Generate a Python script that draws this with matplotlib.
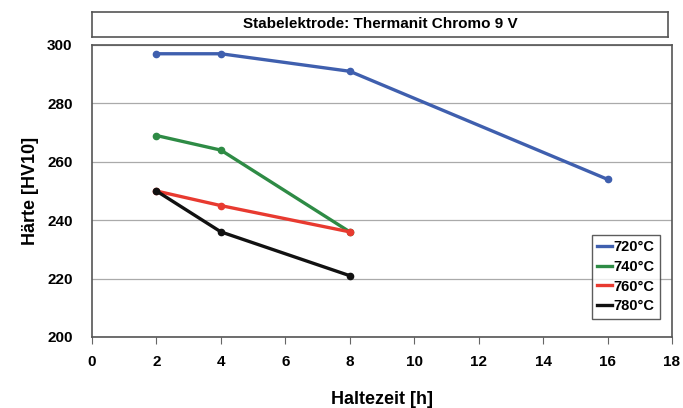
import matplotlib
matplotlib.use("Agg")
import matplotlib.pyplot as plt
from matplotlib.lines import Line2D

plt.rcParams['font.family'] = ['Liberation Sans', 'DejaVu Sans']
plt.rcParams['font.weight'] = 'bold'

title = "Stabelektrode: Thermanit Chromo 9 V"
x_720 = [2, 4, 8, 16]
y_720 = [297, 297, 291, 254]
x_740 = [2, 4, 8]
y_740 = [269, 264, 236]
x_760 = [2, 4, 8]
y_760 = [250, 245, 236]
x_780 = [2, 4, 8]
y_780 = [250, 236, 221]
labels = ["720°C", "740°C", "760°C", "780°C"]
colors = ["#3f5fae", "#2e8b45", "#e83a30", "#111111"]
xticks = [0, 2, 4, 6, 8, 10, 12, 14, 16, 18]
yticks = [200, 220, 240, 260, 280, 300]

fig = plt.figure(figsize=(6.83, 4.08), dpi=100)
ax = fig.add_axes([92/683, 71/408, 580/683, 292/408])

series = [(x_720, y_720), (x_740, y_740), (x_760, y_760), (x_780, y_780)]
for (xs, ys), lab, c in zip(series, labels, colors):
    ax.plot(xs, ys, color=c, lw=2.4, marker='o', ms=4.5, label=lab)

ax.set_xlim(0, 18)
ax.set_ylim(200, 300)
ax.set_xticks(xticks)
ax.set_yticks(yticks)
ax.yaxis.grid(True, color='#aaaaaa', lw=0.9)
ax.set_axisbelow(True)
ax.tick_params(axis='y', length=0, pad=14, labelsize=11)
ax.tick_params(axis='x', length=5, direction='out', pad=8, labelsize=11, color='#666666')
for s in ax.spines.values():
    s.set_color('#555555')
    s.set_linewidth(1.2)
ax.set_xlabel("Haltezeit [h]", fontsize=13, fontweight='bold', labelpad=16)
ax.set_ylabel("Härte [HV10]", fontsize=13, fontweight='bold', labelpad=6)

handles = [Line2D([], [], color=c, lw=2.4) for c in colors]
leg = ax.legend(handles, labels, loc='upper left', bbox_to_anchor=(0.862, 0.35), frameon=True, fancybox=False,
                edgecolor='#333333', fontsize=10.5, handlelength=1.0, handletextpad=0.15,
                borderpad=0.35, labelspacing=0.4, borderaxespad=0)
leg.get_frame().set_linewidth(1.0)
for t in leg.get_texts():
    t.set_fontweight('bold')

tax = fig.add_axes([92/683, 371/408, 576/683, 25/408])
tax.set_xticks([]); tax.set_yticks([])
for s in tax.spines.values():
    s.set_color('#555555'); s.set_linewidth(1.2)
tax.text(0.5, 0.5, title, ha='center', va='center', fontsize=11, fontweight='bold', transform=tax.transAxes)

fig.savefig("out.png", dpi=100)
